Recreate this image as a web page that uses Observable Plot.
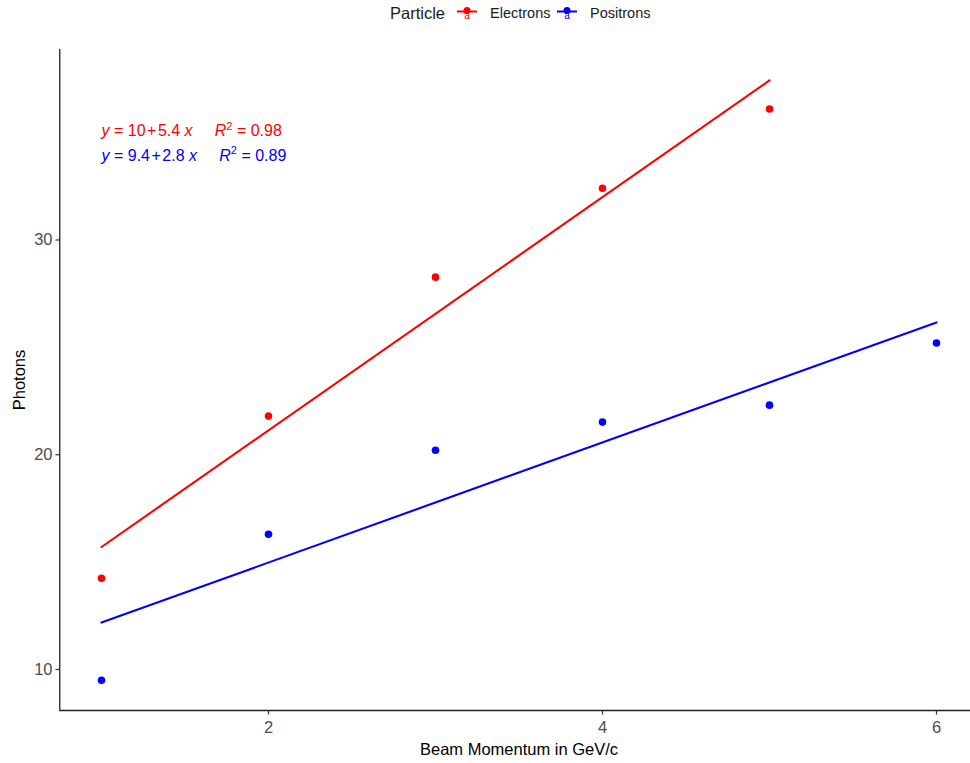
<!DOCTYPE html>
<html>
<head>
<meta charset="utf-8">
<script src="https://cdn.jsdelivr.net/npm/d3@7"></script>
<script src="https://cdn.jsdelivr.net/npm/@observablehq/plot@0.6"></script>
<style>
  body { margin: 0; background: #ffffff; font-family: "Liberation Sans", Arial, sans-serif; }
  #wrap { width: 970px; }
  #legend, #chart { display: block; line-height: 0; }
  #legend svg, #chart svg { display: block; }
</style>
</head>
<body>
<div id="wrap">
  <div id="legend"></div>
  <div id="chart"></div>
</div>
<script>
// ---- data ----
const particles = ["Electrons", "Positrons"];
const colors = ["#FF0000", "#0000FF"];
const electronMomentum = [1, 2, 3, 4, 5];
const electronPhotons = [14.25, 21.8, 28.27, 32.41, 36.1];
const positronMomentum = [1, 2, 3, 4, 5, 6];
const positronPhotons = [9.5, 16.3, 20.21, 21.52, 22.31, 25.2];
const xTicks = [2, 4, 6];
const yTicks = [10, 20, 30];
const xDomain = [0.75, 6.25];
const yDomain = [8.09, 38.87];
const eqLabels = [
  "*y* = 10~+~5.4 *x*     *R*^2^ = 0.98",
  "*y* = 9.4~+~2.8 *x*     *R*^2^ = 0.89"
];
const eqX = [1, 1];
const eqY = [35.07, 33.93];
const xTitle = "Beam Momentum in GeV/c";
const yTitle = "Photons";
const legendTitle = "Particle";

const FONT = '"Liberation Sans", Arial, sans-serif';

const data = [
  ...electronMomentum.map((m, i) => ({particle: particles[0], momentum: m, photons: electronPhotons[i]})),
  ...positronMomentum.map((m, i) => ({particle: particles[1], momentum: m, photons: positronPhotons[i]}))
];
const eqData = eqLabels.map((t, i) => ({
  particle: particles[i], markup: t, label: t.replace(/[*^~]/g, ""), x: eqX[i], y: eqY[i]
}));

// ---- legend (above the plot svg) ----
const leg = d3.select("#legend").append("svg")
  .attr("width", 970).attr("height", 30)
  .style("font-family", FONT);
leg.append("text").attr("x", 390).attr("y", 18.5)
  .attr("font-size", 16.5).attr("fill", "#1a1a1a").text(legendTitle);
const keyX = [457, 557];
const labX = [490, 590];
particles.forEach((p, i) => {
  const g = leg.append("g");
  g.append("line").attr("x1", keyX[i]).attr("x2", keyX[i] + 20)
    .attr("y1", 11.5).attr("y2", 11.5).attr("stroke", colors[i]).attr("stroke-width", 2);
  g.append("circle").attr("cx", keyX[i] + 10).attr("cy", 10.5).attr("r", 3.5).attr("fill", colors[i]);
  g.append("text").attr("x", keyX[i] + 10).attr("y", 18.5).attr("text-anchor", "middle")
    .attr("font-size", 10).attr("fill", colors[i]).text("a");
  leg.append("text").attr("x", labX[i]).attr("y", 18.3)
    .attr("font-size", 14.5).attr("fill", "#1a1a1a").text(p);
});

// ---- plot ----
const plot = Plot.plot({
  width: 970,
  height: 733,
  marginTop: 19,
  marginBottom: 53,
  marginLeft: 60,
  marginRight: 0,
  style: {fontFamily: FONT, background: "#ffffff", color: "#4d4d4d"},
  x: {domain: xDomain, range: [59.25, 977.75]},
  y: {domain: yDomain},
  color: {domain: particles, range: colors},
  marks: [
    Plot.linearRegressionY(data, {x: "momentum", y: "photons", stroke: "particle", ci: 0, strokeWidth: 2.1}),
    Plot.dot(data, {x: "momentum", y: "photons", fill: "particle", r: 3.8}),
    Plot.text(eqData, {x: "x", y: "y", text: "label", fill: "particle", textAnchor: "start", fontSize: 16}),
    Plot.axisX({ticks: xTicks, tickFormat: d => String(d), tickSize: 4.5, tickPadding: 6, fontSize: 16.5, label: null, stroke: "#333333", fill: "#4d4d4d", strokeWidth: 1.2}),
    Plot.axisY({ticks: yTicks, tickFormat: d => String(d), tickSize: 4.5, tickPadding: 3.5, fontSize: 16.5, label: null, stroke: "#333333", fill: "#4d4d4d", strokeWidth: 1.2}),
    Plot.ruleY([yDomain[0]], {x1: xDomain[0], x2: xDomain[1], stroke: "#222222", strokeWidth: 1.3}),
    Plot.ruleX([xDomain[0]], {y1: yDomain[0], y2: yDomain[1], stroke: "#222222", strokeWidth: 1.3}),
    Plot.text([xTitle], {x: [(xDomain[0] + xDomain[1]) / 2], frameAnchor: "bottom", lineAnchor: "middle", textAnchor: "middle", dy: 39.5, fontSize: 16.5, fill: "#000000"}),
    Plot.text([yTitle], {frameAnchor: "left", lineAnchor: "middle", textAnchor: "middle", rotate: -90, dx: -40.3, fontSize: 16.5, fill: "#000000"})
  ]
});
document.getElementById("chart").appendChild(plot);

// ---- rich text for the regression equations (italic + superscript) ----
const texts = Array.from(plot.querySelectorAll("text"));
eqData.forEach(d => {
  const el = texts.find(t => t.textContent === d.label);
  if (!el) return;
  el.textContent = "";
  el.setAttribute("xml:space", "preserve");
  el.style.whiteSpace = "pre";
  const tokens = d.markup.match(/(\*[^*]+\*|\^[^^]+\^|~|[^*^~]+)/g);
  let raised = false;
  let gap = 0;
  const NS = "http://www.w3.org/2000/svg";
  tokens.forEach(tok => {
    if (tok === "~") { gap += 1.5; return; }
    const ts = document.createElementNS(NS, "tspan");
    if (tok.startsWith("*")) {
      ts.textContent = tok.slice(1, -1);
      ts.setAttribute("font-style", "italic");
      if (raised) { ts.setAttribute("dy", "6.5"); raised = false; }
    } else if (tok.startsWith("^")) {
      ts.textContent = tok.slice(1, -1);
      ts.setAttribute("font-size", "11");
      ts.setAttribute("dy", "-6.5");
      raised = true;
    } else {
      ts.textContent = tok;
      if (raised) { ts.setAttribute("dy", "6.5"); raised = false; }
    }
    if (gap) { ts.setAttribute("dx", String(gap)); gap = 0; }
    el.appendChild(ts);
  });
});
</script>
</body>
</html>
